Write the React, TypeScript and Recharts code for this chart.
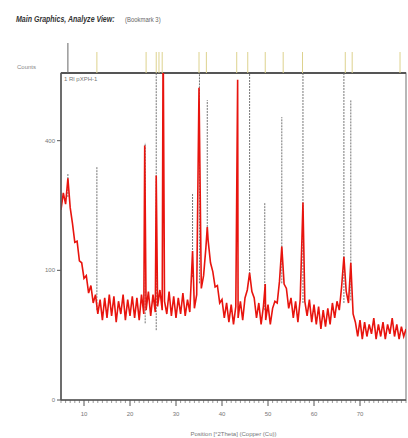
import React from 'react'
import { ComposedChart, Line, XAxis, YAxis, ReferenceLine, ReferenceArea } from 'recharts'

// scan positions (°2Theta) and counts
const twoTheta = [
  5.0, 5.5, 6.0, 6.5, 7.0, 7.5, 8.0, 8.5, 9.0, 9.5, 10.0, 10.5, 11.0, 11.5, 12.0, 12.5,
  13.0, 13.5, 14.0, 14.5, 15.0, 15.5, 16.0, 16.5, 17.0, 17.5, 18.0, 18.5, 19.0, 19.5,
  20.0, 20.5, 21.0, 21.5, 22.0, 22.5, 23.0, 23.2, 23.5, 24.0, 24.5, 25.0, 25.5, 25.7,
  26.0, 26.5, 27.0, 27.2, 27.5, 28.0, 28.5, 29.0, 29.5, 30.0, 30.5, 31.0, 31.5, 32.0,
  32.5, 33.0, 33.6, 34.0, 34.5, 35.0, 35.5, 36.0, 36.5, 36.8, 37.0, 37.5, 38.0, 38.5,
  39.0, 39.5, 40.0, 40.5, 41.0, 41.5, 42.0, 42.5, 43.0, 43.4, 43.5, 44.0, 44.5, 45.0,
  45.5, 46.0, 46.5, 47.0, 47.5, 48.0, 48.5, 49.0, 49.4, 49.5, 50.0, 50.5, 51.0, 51.5,
  52.0, 52.5, 53.0, 53.5, 54.0, 54.5, 55.0, 55.5, 56.0, 56.5, 57.0, 57.6, 58.0, 58.5,
  59.0, 59.5, 60.0, 60.5, 61.0, 61.5, 62.0, 62.5, 63.0, 63.5, 64.0, 64.5, 65.0, 65.5,
  66.0, 66.5, 67.0, 67.5, 68.0, 68.5, 69.0, 69.5, 70.0, 70.5, 71.0, 71.5, 72.0, 72.5,
  73.0, 73.5, 74.0, 74.5, 75.0, 75.5, 76.0, 76.5, 77.0, 77.5, 78.0, 78.5, 79.0, 79.5, 80.0,
]
const counts = [
  215, 255, 228, 292, 220, 185, 148, 150, 115, 112, 88, 92, 68, 78, 56, 66,
  44, 60, 38, 62, 40, 66, 42, 64, 36, 58, 44, 66, 38, 60,
  42, 64, 40, 62, 38, 66, 44, 385, 48, 70, 42, 66, 46, 300,
  52, 72, 48, 820, 58, 44, 70, 42, 64, 40, 62, 44, 68, 42,
  60, 46, 132, 50, 66, 580, 74, 92, 138, 178, 150, 112, 98, 76,
  78, 56, 60, 40, 56, 36, 54, 34, 52, 610, 40, 58, 38, 62,
  72, 96, 70, 62, 40, 56, 34, 52, 80, 38, 54, 34, 50, 58,
  56, 84, 140, 80, 74, 50, 62, 40, 58, 36, 60, 232, 58, 42,
  60, 36, 54, 34, 52, 30, 48, 32, 50, 34, 56, 40, 58, 48,
  76, 122, 70, 56, 112, 44, 36, 24, 38, 22, 36, 24, 34, 26,
  40, 22, 34, 24, 36, 22, 34, 26, 40, 24, 34, 22, 32, 24, 30,
]

// peak label columns (vertical text drawn as dotted lines)
const markerPos = [6.5, 12.8, 23.3, 25.7, 33.6, 35.1, 36.8, 46.0, 49.3, 53.0, 57.6, 66.5, 68.0]
const markerTop = [306, 323, 393, 636, 255, 636, 535, 636, 231, 476, 636, 636, 535]
const markerBottom = [245, 48, 35, 29, 90, 81, 172, 90, 48, 81, 56, 56, 59]

// reference pattern sticks in the strip above the plot
const stickPos = [12.8, 23.5, 25.7, 26.3, 27.0, 35.0, 36.6, 43.2, 45.6, 49.4, 53.3, 57.5, 66.8, 68.3, 78.7]

const xTicks = [10, 20, 30, 40, 50, 60, 70]
const yTicks = [0, 100, 400]

const data = twoTheta.map((t, i) => ({ t, c: counts[i] }))
const allXTicks = Array.from({ length: 76 }, (_, i) => 5 + i)

const font = '"Liberation Sans", Arial, sans-serif'

const XTick = ({ x, y, payload }: any) => {
  const major = xTicks.includes(payload.value)
  return (
    <g>
      <line x1={x} x2={x} y1={y} y2={y + (major ? 6 : 3)} stroke="#555" strokeWidth={major ? 1 : 0.6} />
      {major && (
        <text x={x} y={y + 16} textAnchor="middle" fontSize={6} fill="#777" fontFamily={font}>
          {payload.value}
        </text>
      )}
    </g>
  )
}

export default function App() {
  return (
    <div style={{ position: 'absolute', left: 0, top: 0, width: 408, height: 438, background: '#fff', fontFamily: font }}>
      <svg width={408} height={40} style={{ position: 'absolute', left: 0, top: 0 }}>
        <g transform="translate(16,22) scale(0.74,1)">
          <text x={0} y={0} fontSize={9.5} fontWeight="bold" fontStyle="italic" fill="#333" fontFamily={font}>
            Main Graphics, Analyze View:
          </text>
        </g>
        <g transform="translate(125,22) scale(0.85,1)">
          <text x={0} y={0} fontSize={7} fill="#666" fontFamily={font}>
            (Bookmark 3)
          </text>
        </g>
      </svg>

      <ComposedChart
        width={408}
        height={438}
        data={data}
        margin={{ top: 73, right: 2, left: 0, bottom: 0 }}
        style={{ position: 'absolute', left: 0, top: 0 }}
      >
        <ReferenceArea x1={5} x2={80} y1={0} y2={636} fill="none" stroke="#888" strokeWidth={1.2} />
        <ReferenceLine y={636} stroke="#555" strokeWidth={2} />
        <XAxis
          dataKey="t"
          type="number"
          domain={[5, 80]}
          allowDataOverflow
          ticks={allXTicks}
          interval={0}
          tickSize={0}
          tickMargin={0}
          tick={<XTick />}
          height={38}
          axisLine={{ stroke: '#555', strokeWidth: 1.5 }}
          label={{ value: 'Position [°2Theta] (Copper (Cu))', position: 'insideBottom', offset: 2, fontSize: 6, fill: '#777', fontFamily: font }}
        />
        <YAxis
          type="number"
          scale="sqrt"
          domain={[0, 636]}
          allowDataOverflow
          ticks={yTicks}
          width={61}
          tickSize={4}
          tickMargin={2}
          tick={{ fontSize: 6, fill: '#777', fontFamily: font }}
          tickLine={{ stroke: '#555' }}
          axisLine={{ stroke: '#555', strokeWidth: 1.5 }}
        />
        {markerPos.map((p, i) => (
          <ReferenceLine
            key={'m' + i}
            segment={[{ x: p, y: markerBottom[i] }, { x: p, y: markerTop[i] }]}
            stroke="#666"
            strokeWidth={0.9}
            strokeDasharray="2 1"
          />
        ))}
        <Line
          dataKey="c"
          stroke="#e8140e"
          strokeWidth={1.6}
          dot={false}
          isAnimationActive={false}
        />
      </ComposedChart>

      <ComposedChart
        width={408}
        height={73}
        data={[{ t: 5, v: 0 }, { t: 80, v: 0 }]}
        margin={{ top: 43, right: 2, left: 61, bottom: 0 }}
        style={{ position: 'absolute', left: 0, top: 0 }}
      >
        <XAxis dataKey="t" type="number" domain={[5, 80]} hide />
        <YAxis type="number" domain={[0, 1]} hide />
        <ReferenceLine segment={[{ x: 6.5, y: 0 }, { x: 6.5, y: 1 }]} stroke="#666" strokeWidth={1} />
        {stickPos.map((p, i) => (
          <ReferenceLine
            key={'s' + i}
            segment={[{ x: p, y: 0 }, { x: p, y: 0.7 }]}
            stroke="#ddd28e"
            strokeWidth={1}
          />
        ))}
        <Line dataKey="v" stroke="none" dot={false} isAnimationActive={false} />
      </ComposedChart>

      <div style={{ position: 'absolute', left: 17, top: 64, fontSize: 6, color: '#888' }}>Counts</div>
      <div style={{ position: 'absolute', left: 64, top: 76, fontSize: 6, color: '#777' }}>1 Rl pXPH-1</div>
    </div>
  )
}
